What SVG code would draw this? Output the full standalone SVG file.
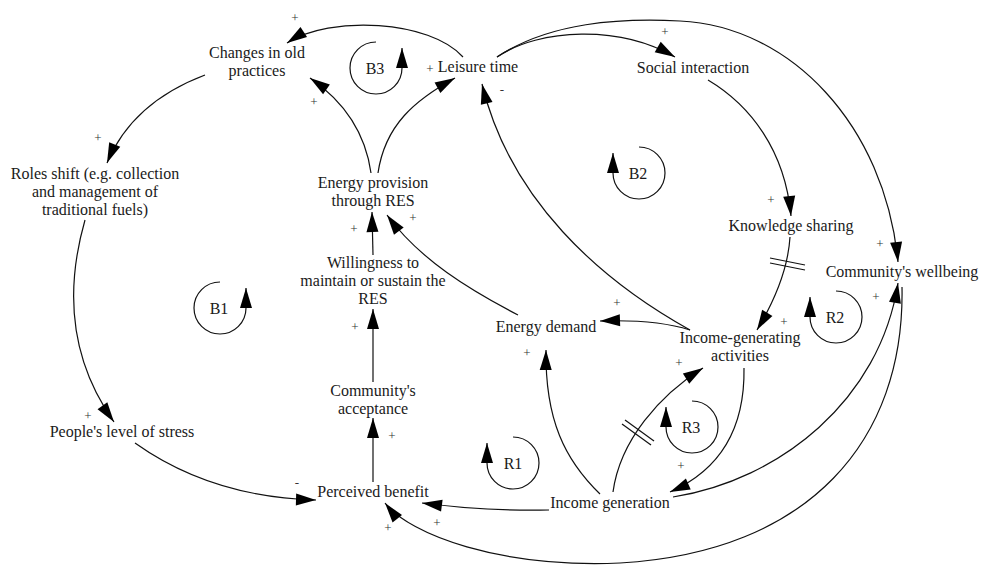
<svg xmlns="http://www.w3.org/2000/svg" width="981" height="565" viewBox="0 0 981 565">
<style>
  .n { font-family: "Liberation Serif", "Times New Roman", serif; font-size: 16px; fill: #1a1a1a; text-anchor: middle; }
  .p { font-family: "Liberation Serif", "Times New Roman", serif; font-size: 13px; fill: #333; text-anchor: middle; }
  .c { fill: none; stroke: #111; stroke-width: 1.2; marker-end: url(#ah); }
  .l { fill: none; stroke: #111; stroke-width: 1.2; marker-end: url(#ah); }
  .d { stroke: #111; stroke-width: 1.2; }
</style>
<defs>
  <marker id="ah" markerUnits="userSpaceOnUse" markerWidth="21" markerHeight="13" refX="20" refY="6" orient="auto" overflow="visible">
    <path d="M0,0 L20,6 L0,12 z" fill="#000"/>
  </marker>
</defs>
<rect width="981" height="565" fill="#fff"/>

<g id="connectors">
  <path class="c" d="M463,57 C430,20 330,15 287,43"/>
  <path class="c" d="M371,173 C365,130 342,100 310,78"/>
  <path class="c" d="M378,173 C385,125 415,100 455,78"/>
  <path class="c" d="M497,57 C540,28 620,25 675,57"/>
  <path class="c" d="M497,57 C550,22 620,18 680,21 C790,26 885,125 898,262"/>
  <path class="c" d="M708,80 C750,105 785,150 791,216"/>
  <path class="c" d="M790,237 C788,270 775,300 757,330"/>
  <line class="d" x1="770" y1="258" x2="805" y2="265"/>
  <line class="d" x1="770" y1="263" x2="805" y2="270"/>
  <path class="c" d="M690,330 C665,322 630,320 600,321"/>
  <path class="c" d="M690,330 C600,280 510,200 482,84"/>
  <path class="c" d="M600,494 C565,460 545,420 546,350"/>
  <path class="c" d="M613,492 C620,440 660,395 703,368"/>
  <line class="d" x1="622" y1="424" x2="651" y2="445"/>
  <line class="d" x1="625" y1="420" x2="654" y2="441"/>
  <path class="c" d="M744,368 C745,430 720,470 670,492"/>
  <path class="c" d="M673,497 C780,480 880,400 898,283"/>
  <path class="c" d="M902,287 C905,440 810,552 620,563 C500,568 410,535 385,503"/>
  <path class="c" d="M549,510 C500,511 460,508 422,503"/>
  <path class="c" d="M135,443 C180,475 240,498 316,500"/>
  <path class="c" d="M85,220 C65,290 70,360 114,422"/>
  <path class="c" d="M205,75 C160,92 125,120 107,163"/>
  <path class="c" d="M373,482 L373,418"/>
  <path class="c" d="M373,382 L373,309"/>
  <path class="c" d="M373,255 L372,212"/>
  <path class="c" d="M518,315 C470,290 420,260 387,215"/>

  <text class="p" x="295" y="22">+</text>
  <text class="p" x="314" y="106">+</text>
  <text class="p" x="430" y="73">+</text>
  <text class="p" x="502" y="94">-</text>
  <text class="p" x="665" y="36">+</text>
  <text class="p" x="771" y="204">+</text>
  <text class="p" x="880" y="248">+</text>
  <text class="p" x="876" y="301">+</text>
  <text class="p" x="784" y="326">+</text>
  <text class="p" x="617" y="307">+</text>
  <text class="p" x="527" y="357">+</text>
  <text class="p" x="679" y="367">+</text>
  <text class="p" x="681" y="470">+</text>
  <text class="p" x="437" y="527">+</text>
  <text class="p" x="388" y="532">+</text>
  <text class="p" x="297" y="487">-</text>
  <text class="p" x="88" y="420">+</text>
  <text class="p" x="98" y="142">+</text>
  <text class="p" x="392" y="440">+</text>
  <text class="p" x="355" y="331">+</text>
  <text class="p" x="354" y="233">+</text>
  <text class="p" x="413" y="222">+</text>
</g>

<g id="loops">
  <g id="loop-B3">
    <path class="l" d="M376,42 A26,26 0 1 0 402,68 L402,48"/>
    <text class="n" x="375" y="74">B3</text>
  </g>
  <g id="loop-B1">
    <path class="l" d="M220,282 A26,26 0 1 0 246,308 L246,288"/>
    <text class="n" x="219" y="314">B1</text>
  </g>
  <g id="loop-B2">
    <path class="l" d="M639,147 A26,26 0 1 1 613,173 L613,153"/>
    <text class="n" x="638" y="179">B2</text>
  </g>
  <g id="loop-R1">
    <path class="l" d="M513,437 A26,26 0 1 1 487,463 L487,443"/>
    <text class="n" x="513" y="469">R1</text>
  </g>
  <g id="loop-R2">
    <path class="l" d="M836,291 A26,26 0 1 1 810,317 L810,297"/>
    <text class="n" x="835" y="323">R2</text>
  </g>
  <g id="loop-R3">
    <path class="l" d="M692,401 A26,26 0 1 1 666,427 L666,407"/>
    <text class="n" x="691" y="433">R3</text>
  </g>
</g>

<g id="node-changes"><text class="n" x="257" y="58">Changes in old</text><text class="n" x="257" y="76">practices</text></g>
<g id="node-leisure"><text class="n" x="478" y="72">Leisure time</text></g>
<g id="node-social"><text class="n" x="693" y="73">Social interaction</text></g>
<g id="node-roles"><text class="n" x="95" y="179">Roles shift (e.g. collection</text><text class="n" x="95" y="197">and management of</text><text class="n" x="95" y="215">traditional fuels)</text></g>
<g id="node-energy-provision"><text class="n" x="373" y="188">Energy provision</text><text class="n" x="373" y="206">through RES</text></g>
<g id="node-willingness"><text class="n" x="373" y="268">Willingness to</text><text class="n" x="373" y="286">maintain or sustain the</text><text class="n" x="373" y="304">RES</text></g>
<g id="node-acceptance"><text class="n" x="373" y="396">Community's</text><text class="n" x="373" y="414">acceptance</text></g>
<g id="node-perceived"><text class="n" x="373" y="497">Perceived benefit</text></g>
<g id="node-stress"><text class="n" x="122" y="437">People's level of stress</text></g>
<g id="node-energy-demand"><text class="n" x="546" y="332">Energy demand</text></g>
<g id="node-income-generation"><text class="n" x="610" y="508">Income generation</text></g>
<g id="node-iga"><text class="n" x="740" y="343">Income-generating</text><text class="n" x="740" y="361">activities</text></g>
<g id="node-knowledge"><text class="n" x="791" y="231">Knowledge sharing</text></g>
<g id="node-wellbeing"><text class="n" x="902" y="277">Community's wellbeing</text></g>
</svg>
